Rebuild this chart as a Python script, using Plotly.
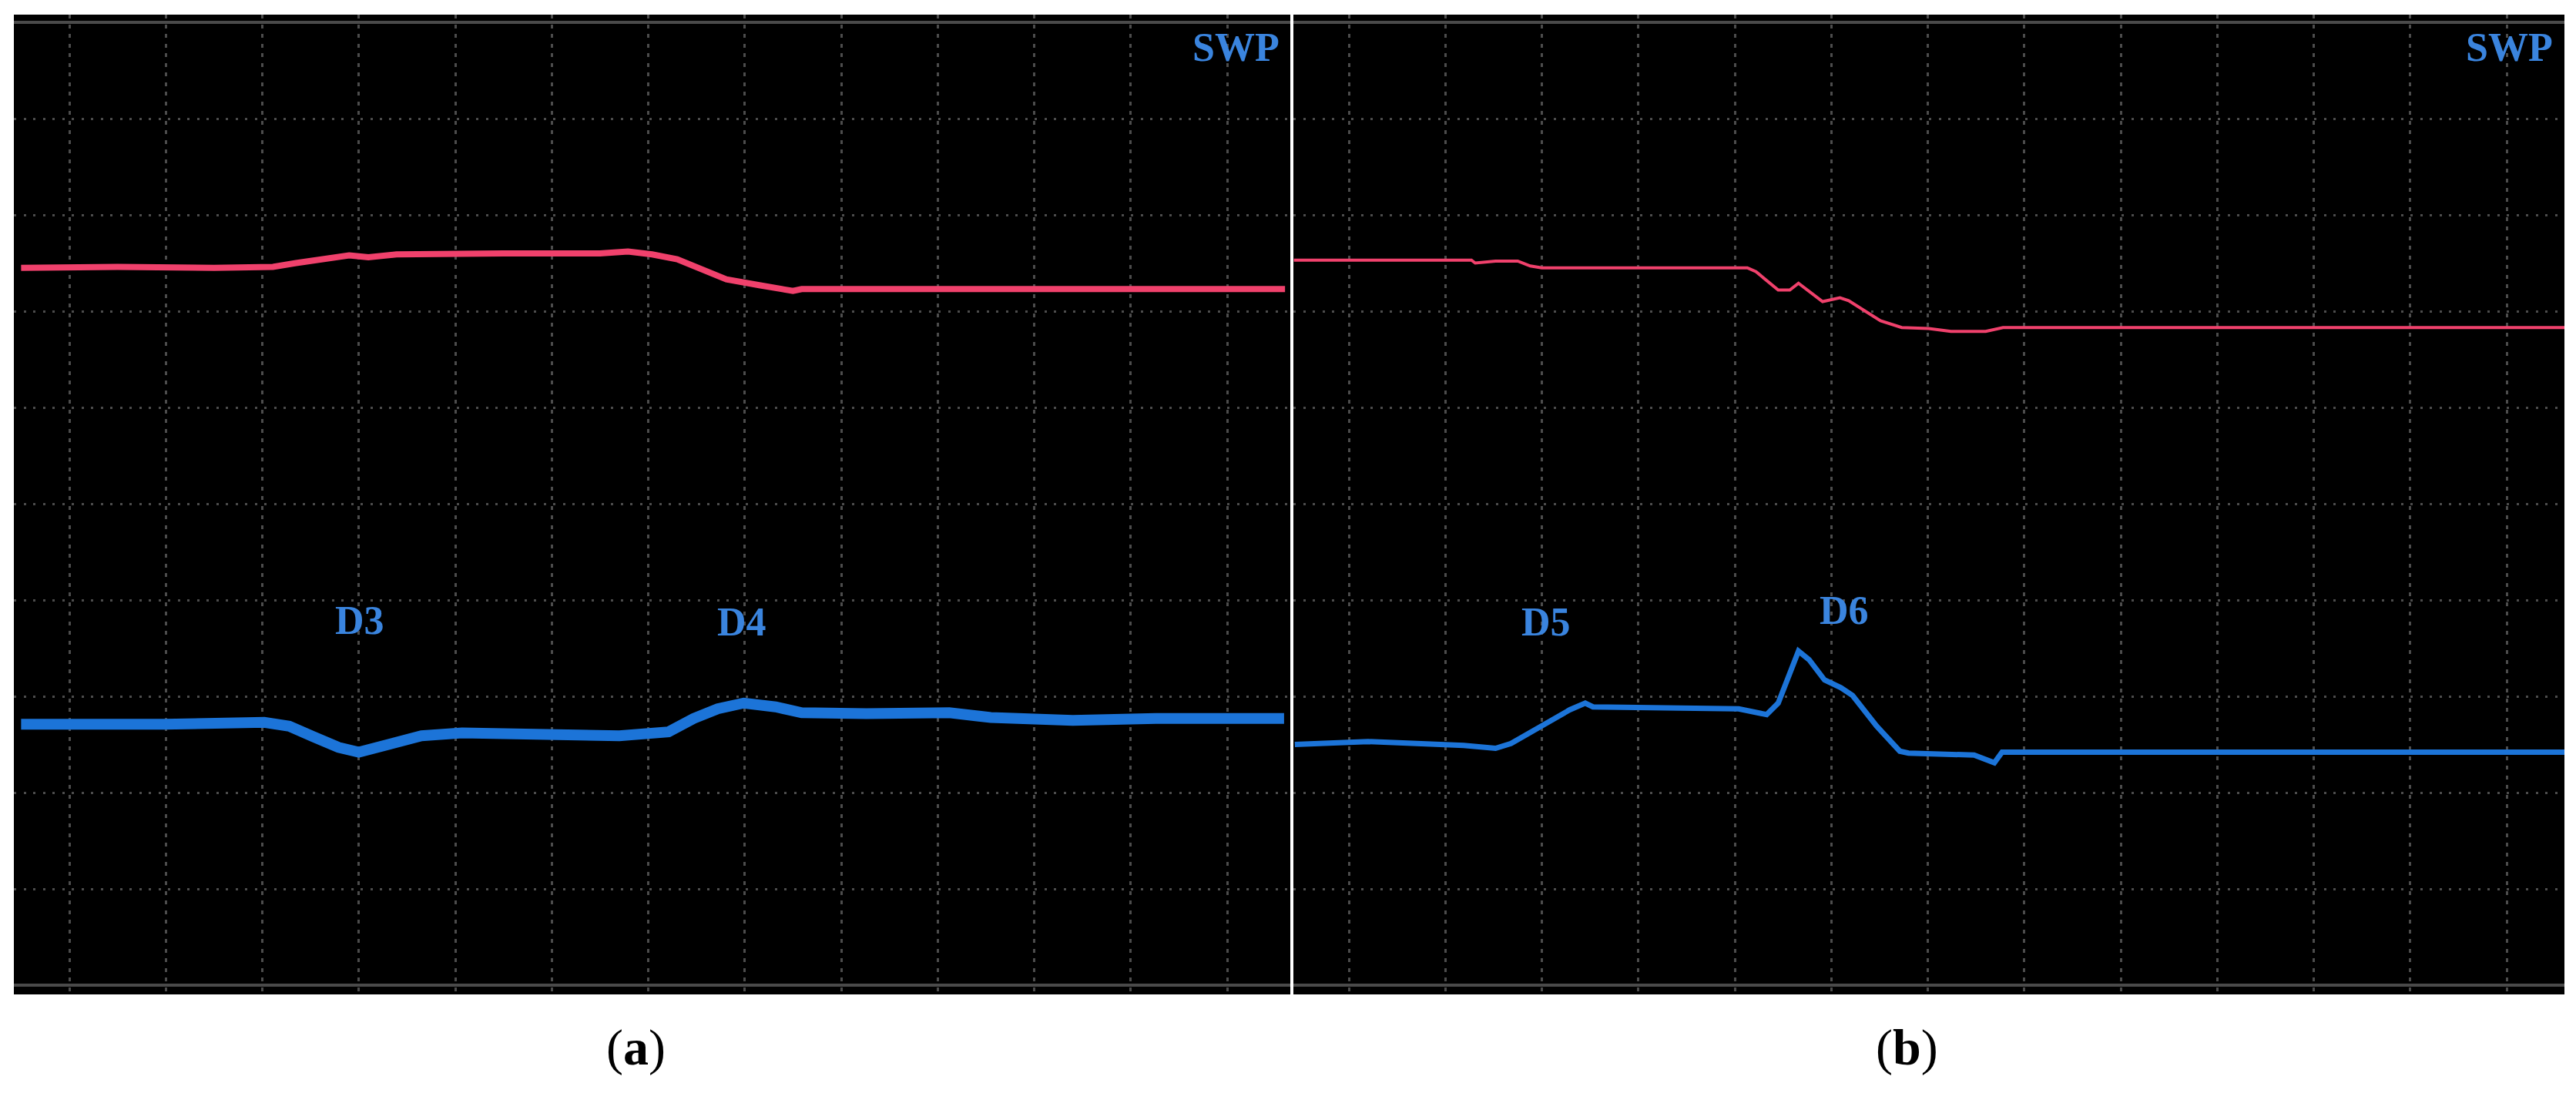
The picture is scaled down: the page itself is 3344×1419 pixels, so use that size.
import plotly.graph_objects as go

# ---- data (oscilloscope screen units: x = time divisions, y = volt divisions) ----
a_red_x = [-0.50, 0.50, 1.50, 2.11, 2.35, 2.62, 2.90, 3.10, 3.39, 4.50, 5.50, 5.79, 6.04, 6.30, 6.55, 6.81, 7.15, 7.50, 7.59, 9.00, 10.50, 12.00, 12.60]
a_red_y = [2.45, 2.46, 2.45, 2.46, 2.50, 2.54, 2.58, 2.56, 2.59, 2.60, 2.60, 2.62, 2.59, 2.54, 2.44, 2.33, 2.27, 2.21, 2.23, 2.23, 2.22, 2.23, 2.23]

a_blue_x = [-0.50, 0.14, 0.99, 2.02, 2.28, 2.53, 2.79, 3.00, 3.31, 3.65, 4.07, 4.85, 5.70, 6.21, 6.47, 6.72, 6.99, 7.32, 7.59, 8.26, 9.12, 9.55, 10.40, 11.26, 12.12, 12.59]
a_blue_y = [-2.29, -2.30, -2.29, -2.27, -2.31, -2.42, -2.53, -2.58, -2.50, -2.41, -2.38, -2.39, -2.41, -2.37, -2.23, -2.13, -2.07, -2.11, -2.17, -2.18, -2.17, -2.22, -2.25, -2.23, -2.23, -2.23]

b_red_x = [-0.57, 1.27, 1.31, 1.52, 1.75, 1.88, 2.00, 4.13, 4.22, 4.45, 4.57, 4.66, 4.91, 5.09, 5.18, 5.51, 5.73, 6.01, 6.24, 6.60, 6.78, 12.60]
b_red_y = [2.53, 2.53, 2.50, 2.52, 2.52, 2.47, 2.45, 2.45, 2.41, 2.22, 2.22, 2.29, 2.10, 2.14, 2.11, 1.90, 1.83, 1.82, 1.79, 1.79, 1.83, 1.83]

b_blue_x = [-0.56, 0.20, 1.19, 1.52, 1.68, 2.00, 2.29, 2.45, 2.53, 4.04, 4.33, 4.45, 4.66, 4.77, 4.93, 5.10, 5.22, 5.47, 5.71, 5.80, 6.48, 6.69, 6.77, 7.55, 9.56, 11.26, 12.41, 12.60]
b_blue_y = [-2.50, -2.47, -2.51, -2.54, -2.49, -2.30, -2.14, -2.07, -2.11, -2.13, -2.19, -2.07, -1.53, -1.62, -1.83, -1.91, -1.99, -2.31, -2.57, -2.59, -2.61, -2.69, -2.58, -2.58, -2.58, -2.57, -2.58, -2.58]

grid_x = list(range(0, 13))
grid_y = [-4, -3, -2, -1, 0, 1, 2, 3, 4]

labels_a = [("D3", 3.01, -1.21), ("D4", 6.97, -1.23), ("SWP", 12.09, 4.74)]
labels_b = [("D5", 2.04, -1.23), ("D6", 5.13, -1.11), ("SWP", 12.03, 4.74)]
panel_titles = ["(<b>a</b>)", "(<b>b</b>)"]

# ---- styling ----
RED = "#f0416c"
BLUE = "#1c74d8"
TXT_BLUE = "#3a84de"
GRID = "#4c4c4c"
W, H = 3344, 1419

fig = go.Figure()

fig.add_trace(go.Scatter(x=a_red_x, y=a_red_y, mode="lines", line=dict(color=RED, width=8), xaxis="x", yaxis="y", showlegend=False))
fig.add_trace(go.Scatter(x=a_blue_x, y=a_blue_y, mode="lines", line=dict(color=BLUE, width=14), xaxis="x", yaxis="y", showlegend=False))
fig.add_trace(go.Scatter(x=b_red_x, y=b_red_y, mode="lines", line=dict(color=RED, width=4), xaxis="x2", yaxis="y2", showlegend=False))
fig.add_trace(go.Scatter(x=b_blue_x, y=b_blue_y, mode="lines", line=dict(color=BLUE, width=7), xaxis="x2", yaxis="y2", showlegend=False))

ydom = [(H - 1291) / H, (H - 19) / H]
ax_common = dict(showgrid=True, gridcolor=GRID, gridwidth=3, zeroline=False,
                 showticklabels=False, ticks="", showline=False, fixedrange=True)

fig.update_layout(
    width=W, height=H,
    margin=dict(l=0, r=0, t=0, b=0),
    paper_bgcolor="white",
    plot_bgcolor="black",
    xaxis=dict(domain=[18 / W, 1675 / W], range=[-0.5749, 12.6547], tickvals=grid_x, griddash="5px,7.5px", anchor="y", **ax_common),
    yaxis=dict(domain=ydom, range=[-5.096, 5.08], tickvals=grid_y, griddash="3px,9.5px", anchor="x", **ax_common),
    xaxis2=dict(domain=[1679 / W, 3329 / W], range=[-0.5749, 12.5988], tickvals=grid_x, griddash="5px,7.5px", anchor="y2", **ax_common),
    yaxis2=dict(domain=ydom, range=[-5.096, 5.08], tickvals=grid_y, griddash="3px,9.5px", anchor="x2", **ax_common),
)

shapes = []
for xr, yr in (("x", "y"), ("x2", "y2")):
    for yv in (-5, 5):
        shapes.append(dict(type="line", xref=f"{xr} domain", yref=yr, x0=0, x1=1, y0=yv, y1=yv,
                           line=dict(color="#4a4a4a", width=4), layer="below"))
# white separator between the two screens
shapes.append(dict(type="line", xref="paper", yref="paper", x0=1677 / W, x1=1677 / W, y0=ydom[0], y1=ydom[1],
                   line=dict(color="white", width=3)))
fig.update_layout(shapes=shapes)

annotations = []
for labels, xr, yr in ((labels_a, "x", "y"), (labels_b, "x2", "y2")):
    for t, xv, yv in labels:
        annotations.append(dict(text=f"<b>{t}</b>", x=xv, y=yv, xref=xr, yref=yr, showarrow=False,
                                xanchor="center", yanchor="middle",
                                font=dict(family="Liberation Serif, Times New Roman, serif", size=52, color=TXT_BLUE)))
for t, xp in zip(panel_titles, (825 / W, 2475 / W)):
    annotations.append(dict(text=t, x=xp, y=1 - 1360 / H, xref="paper", yref="paper", showarrow=False,
                            xanchor="center", yanchor="middle",
                            font=dict(family="Liberation Serif, Times New Roman, serif", size=66, color="black")))
fig.update_layout(annotations=annotations)

fig.write_html("out.html", config={"displayModeBar": False},
               post_script="document.body.style.margin='0';document.body.style.overflow='hidden';")
